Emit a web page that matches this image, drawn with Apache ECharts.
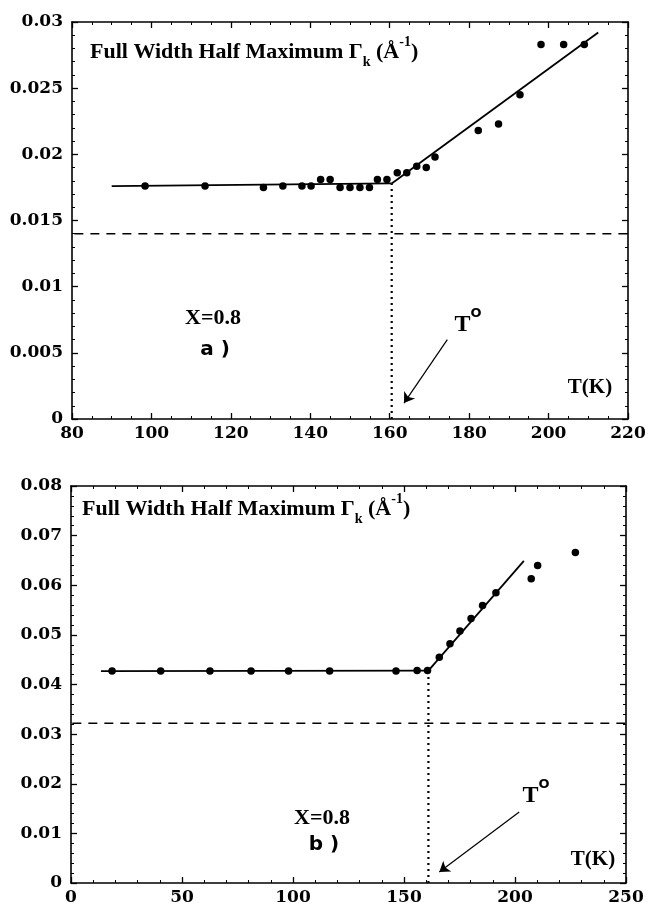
<!DOCTYPE html>
<html>
<head>
<meta charset="utf-8">
<script src="https://cdn.jsdelivr.net/npm/echarts@6/dist/echarts.min.js"></script>
<style>html,body{margin:0;padding:0;background:#fff}#c{width:649px;height:909px}</style>
</head>
<body>
<div id="c"></div>
<script>
// ---- Panel a) data ----
var aT = [98.4, 113.5, 128.2, 133.1, 137.9, 140.2, 142.6, 145, 147.5, 150, 152.5, 154.9, 156.9, 159.3, 161.9, 164.3, 166.8, 169.2, 171.4, 182.3, 187.4, 192.8, 198.1, 203.8, 209.0];
var aG = [0.0176, 0.0176, 0.0175, 0.0176, 0.0176, 0.0176, 0.0181, 0.0181, 0.0175, 0.0175, 0.0175, 0.0175, 0.0181, 0.0181, 0.0186, 0.0186, 0.0191, 0.0190, 0.0198, 0.0218, 0.0223, 0.0245, 0.0283, 0.0283, 0.0283];
var aFitFlat = [[90, 0.0176], [160.5, 0.0178]];
var aFitRise = [[160.5, 0.0178], [212.5, 0.0292]];
var aDashY = 0.0140;
var aTo = 160.5;
var aArrow = [[174.5, 0.0060], [163.6, 0.0012]];
var aXTicks = [80, 100, 120, 140, 160, 180, 200, 220];
var aYTicks = [0, 0.005, 0.01, 0.015, 0.02, 0.025, 0.03];

// ---- Panel b) data ----
var bT = [18.5, 40.4, 62.6, 81.1, 98.0, 116.5, 146.4, 155.9, 160.6, 165.9, 170.7, 175.2, 180.2, 185.4, 191.4, 207.3, 210.2, 227.2];
var bG = [0.0427, 0.0427, 0.0427, 0.0427, 0.0427, 0.0427, 0.0427, 0.0428, 0.0428, 0.0455, 0.0482, 0.0508, 0.0533, 0.0559, 0.0585, 0.0613, 0.0640, 0.0666];
var bFitFlat = [[13.5, 0.0427], [161, 0.0428]];
var bFitRise = [[161, 0.0428], [204, 0.0649]];
var bDashY = 0.0322;
var bTo = 161;
var bArrow = [[201.9, 0.0143], [165.9, 0.0022]];
var bXTicks = [0, 50, 100, 150, 200, 250];
var bYTicks = [0, 0.01, 0.02, 0.03, 0.04, 0.05, 0.06, 0.07, 0.08];

var labelFont = 'DejaVu Serif';
var textFont = '"Liberation Serif", "Times New Roman", serif';

function fmt(v) { return String(parseFloat(v.toFixed(4))); }

function axisBase(grid, ticks, minorSplit) {
  var min = ticks[0], max = ticks[ticks.length - 1], iv = ticks[1] - ticks[0];
  return {
    gridIndex: grid, type: 'value', min: min, max: max, interval: iv,
    axisLine: { show: true, onZero: false, lineStyle: { color: '#000', width: 1.6 } },
    axisTick: { show: true, inside: true, length: 6, lineStyle: { color: '#000', width: 1.3 } },
    minorTick: { show: true, splitNumber: minorSplit, length: 3, lineStyle: { color: '#000', width: 1 } },
    splitLine: { show: false }
  };
}
function xAxes(grid, ticks, minorSplit) {
  var base = axisBase(grid, ticks, minorSplit);
  var bottom = Object.assign({}, base, {
    position: 'bottom',
    axisLabel: { color: '#000', fontFamily: labelFont, fontWeight: 'bold', fontSize: 17, margin: 6 }
  });
  var top = Object.assign({}, base, { position: 'top', axisLabel: { show: false } });
  return [bottom, top];
}
function yAxes(grid, ticks, minorSplit) {
  var base = axisBase(grid, ticks, minorSplit);
  var left = Object.assign({}, base, {
    position: 'left',
    axisLabel: { color: '#000', fontFamily: labelFont, fontWeight: 'bold', fontSize: 17, margin: 9, formatter: fmt }
  });
  var right = Object.assign({}, base, { position: 'right', axisLabel: { show: false } });
  return [left, right];
}

var ax = xAxes(0, aXTicks, 4), bx = xAxes(1, bXTicks, 5);
var ay = yAxes(0, aYTicks, 5), by = yAxes(1, bYTicks, 5);

function panelSeries(xi, yi, T, G, flat, rise, dashY, xmin, xmax, to, arrow) {
  var pts = T.map(function (t, i) { return [t, G[i]]; });
  return [
    { type: 'line', xAxisIndex: xi, yAxisIndex: yi, data: [[xmin + 0.6, dashY], [xmax, dashY]], symbol: 'none',
      lineStyle: { color: '#000', width: 1.6, type: [9, 7] }, silent: true },
    { type: 'line', xAxisIndex: xi, yAxisIndex: yi, data: [[to, 0], [to, flat[1][1]]], symbol: 'none',
      lineStyle: { color: '#000', width: 2.2, type: [2, 4] }, silent: true },
    { type: 'line', xAxisIndex: xi, yAxisIndex: yi, data: flat, symbol: 'none',
      lineStyle: { color: '#000', width: 1.8 }, silent: true },
    { type: 'line', xAxisIndex: xi, yAxisIndex: yi, data: rise, symbol: 'none',
      lineStyle: { color: '#000', width: 1.8 }, silent: true,
      markLine: { silent: true, animation: false, symbol: ['none', 'arrow'], symbolSize: 10, label: { show: false },
        lineStyle: { color: '#000', width: 1.2, type: 'solid' },
        data: [[{ coord: arrow[0], symbol: 'none' }, { coord: arrow[1], symbol: 'arrow', symbolSize: 10 }]] } },
    { type: 'scatter', xAxisIndex: xi, yAxisIndex: yi, data: pts, symbol: 'circle', symbolSize: 7.5,
      itemStyle: { color: '#000', opacity: 1 }, silent: true }
  ];
}

var series = []
  .concat(panelSeries(0, 0, aT, aG, aFitFlat, aFitRise, aDashY, 80, 220, aTo, aArrow))
  .concat(panelSeries(2, 2, bT, bG, bFitFlat, bFitRise, bDashY, 0, 250, bTo, bArrow));

var rich = {
  m: { fontFamily: textFont, fontWeight: 'bold', fontSize: 22, color: '#000', verticalAlign: 'middle' },
  sub: { fontFamily: textFont, fontWeight: 'bold', fontSize: 14, color: '#000', verticalAlign: 'bottom', lineHeight: 34 },
  sup: { fontFamily: textFont, fontWeight: 'bold', fontSize: 14, color: '#000', verticalAlign: 'top', lineHeight: 32 }
};
var titleText = '{m|Full Width Half Maximum Γ}{sub|k}{m| (Å}{sup|-1}{m|)}';
var toRich = {
  m: { fontFamily: textFont, fontWeight: 'bold', fontSize: 24, color: '#000', verticalAlign: 'bottom', lineHeight: 30 },
  sup: { fontFamily: 'DejaVu Sans', fontWeight: 'bold', fontSize: 13, color: '#000', verticalAlign: 'top', lineHeight: 30 }
};
function plain(x, y, text, font, size) {
  return { type: 'text', x: x, y: y, silent: true,
    style: { text: text, fontFamily: font, fontWeight: 'bold', fontSize: size, fill: '#000', textAlign: 'center', textVerticalAlign: 'middle' } };
}
function richText(x, y, text, r, align) {
  return { type: 'text', x: x, y: y, silent: true,
    style: { text: text, rich: r, textAlign: align, textVerticalAlign: 'middle' } };
}

var graphics = [
  richText(90, 52, titleText, rich, 'left'),
  plain(213, 318, 'X=0.8', textFont, 22),
  plain(215, 350, 'a )', 'DejaVu Sans', 20),
  richText(468, 322, '{m|T}{sup|O}', toRich, 'center'),
  plain(590, 388, 'T(K)', textFont, 21),

  richText(82, 509, titleText, rich, 'left'),
  plain(322, 818, 'X=0.8', textFont, 22),
  plain(324, 845, 'b )', 'DejaVu Sans', 20),
  richText(536, 793, '{m|T}{sup|O}', toRich, 'center'),
  plain(593, 860, 'T(K)', textFont, 21)
];

var chart = echarts.init(document.getElementById('c'), null, { renderer: 'canvas' });
chart.setOption({
  backgroundColor: '#fff',
  animation: false,
  grid: [
    { left: 72, top: 22, width: 556, height: 397 },
    { left: 71, top: 486, width: 555, height: 397 }
  ],
  xAxis: [ax[0], ax[1], bx[0], bx[1]],
  yAxis: [ay[0], ay[1], by[0], by[1]],
  series: series,
  graphic: graphics
});
</script>
</body>
</html>
